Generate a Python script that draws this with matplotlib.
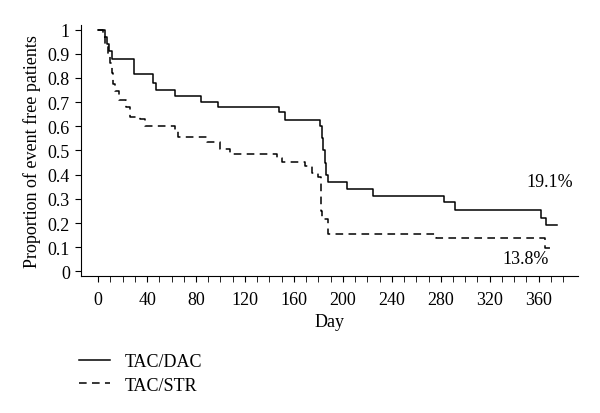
import matplotlib
matplotlib.use('Agg')
from matplotlib import pyplot as plt

# Kaplan-Meier style step data
dac_days = [0, 6, 7, 9, 11, 29, 45, 47, 63, 84, 98, 148, 153, 181, 183, 184, 185, 186, 188,
            203, 225, 283, 292, 362, 366, 375]
dac_surv = [1.0, 0.97, 0.94, 0.91, 0.877, 0.815, 0.78, 0.75, 0.726, 0.70, 0.678, 0.66, 0.628,
            0.60, 0.55, 0.50, 0.45, 0.40, 0.368, 0.34, 0.3125, 0.286, 0.254, 0.22, 0.191, 0.191]

str_days = [0, 4, 6, 8, 10, 11, 12, 14, 17, 23, 26, 34, 38, 63, 65, 89, 100, 108, 146, 150,
            169, 175, 180, 182, 183, 188, 276, 365, 371]
str_surv = [1.0, 0.97, 0.93, 0.90, 0.86, 0.82, 0.776, 0.744, 0.71, 0.68, 0.64, 0.63, 0.603,
            0.58, 0.557, 0.535, 0.506, 0.485, 0.47, 0.453, 0.437, 0.407, 0.39, 0.25, 0.216,
            0.154, 0.14, 0.095, 0.095]

labels = ['TAC/DAC', 'TAC/STR']
end_text = ['19.1%', '13.8%']

plt.rcParams['font.family'] = ['Liberation Serif', 'DejaVu Serif']
plt.rcParams['font.size'] = 13

fig = plt.figure(figsize=(6, 4.14), dpi=100)
ax = fig.add_axes([0.135, 0.332, 0.828, 0.606])

l1, = ax.plot(dac_days, dac_surv, drawstyle='steps-post', color='black', lw=1.1)
l2, = ax.plot(str_days, str_surv, drawstyle='steps-post', color='black', lw=1.1,
              dashes=(5, 3.5))

ax.text(369, 0.371, end_text[0], ha='center', va='center')
ax.text(349, 0.052, end_text[1], ha='center', va='center')

ax.set_xlim(-14, 392)
ax.set_ylim(-0.017, 1.02)
ax.spines['top'].set_visible(False)
ax.spines['right'].set_visible(False)

ax.set_xticks(range(0, 381, 40))
ax.set_xticks(range(0, 381, 10), minor=True)
ax.tick_params(axis='x', which='both', length=4, direction='out', pad=7)
ax.set_yticks([i / 10 for i in range(11)])
ax.set_yticklabels(['0'] + ['0.%d' % i for i in range(1, 10)] + ['1'])
ax.tick_params(axis='y', length=4, direction='out', pad=4)

ax.set_xlabel('Day', labelpad=4)
ax.set_ylabel('Proportion of event free patients', labelpad=5)

fig.legend([l1, l2], labels, loc='upper left', bbox_to_anchor=(0.11, 0.175),
           frameon=False, handlelength=1.75, handletextpad=0.8, labelspacing=0.35,
           borderpad=0.2)

fig.savefig('out.png', dpi=100)
